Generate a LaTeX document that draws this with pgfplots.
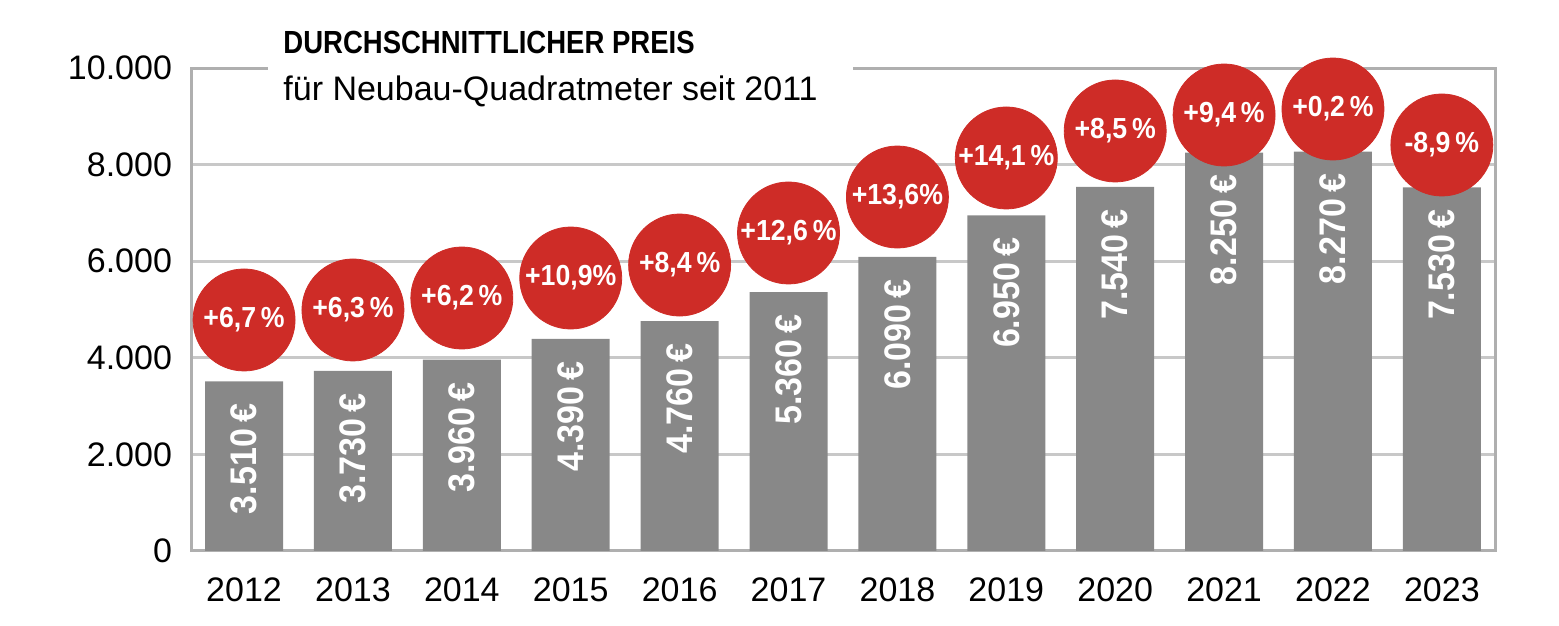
\documentclass[border=0pt]{standalone}
\usepackage{fontspec}
\usepackage{pgfplots}
\pgfplotsset{compat=1.18}
\setmainfont{Liberation Sans}
\newfontfamily\condfont[FakeStretch=0.92]{Liberation Sans}
\newfontfamily\titlefont[FakeStretch=0.86]{Liberation Sans}
\definecolor{pred}{RGB}{206,44,39}
\definecolor{pbar}{RGB}{136,136,136}
\definecolor{pgrid}{RGB}{200,200,200}
\definecolor{paxis}{RGB}{175,175,175}

\begin{document}
\begin{tikzpicture}
\begin{axis}[
  scale only axis,
  width=652.5pt, height=241.5pt,
  xmin=-0.487, xmax=11.497,
  ymin=0, ymax=10000,
  xtick={0,...,11},
  xticklabels={2012,2013,2014,2015,2016,2017,2018,2019,2020,2021,2022,2023},
  ytick={0,2000,...,10000},
  scaled y ticks=false,
  ymajorgrids,
  major grid style={pgrid, line width=1.5pt},
  axis line style={paxis, line width=1.5pt},
  major tick length=0pt,
  /pgf/number format/1000 sep={.},
  /pgf/number format/assume math mode=true,
  tick label style={font=\fontsize{17}{19}\selectfont},
  xticklabel style={yshift=-10pt},
  yticklabel style={xshift=-6pt},
  clip=false,
]
% bars
\addplot[ybar, bar width=39pt, fill=pbar, draw=none,
  point meta=y,
  nodes near coords={\pgfmathprintnumber[1000 sep={.},assume math mode=true]{\pgfplotspointmeta}\,€},
  nodes near coords style={yshift=-11pt, rotate=90, anchor=east, text=white,
    inner sep=0pt, font=\condfont\bfseries\fontsize{18.5}{20}\selectfont}]
coordinates {
  (0,3510) (1,3730) (2,3960) (3,4390) (4,4760) (5,5360)
  (6,6090) (7,6950) (8,7540) (9,8250) (10,8270) (11,7530)
};
% change circles
\addplot[pred, only marks, mark=*, mark size=25.5pt,
  mark options={fill=pred, draw=pred},
  point meta=explicit symbolic,
  nodes near coords,
  nodes near coords style={anchor=center, text=white, inner sep=0pt,
    font=\condfont\bfseries\fontsize{14.5}{16}\selectfont}]
coordinates {
  (0,4783) [+6,7\,\%]
  (1,4990) [+6,3\,\%]
  (2,5238) [+6,2\,\%]
  (3,5652) [+10,9\%]
  (4,5921) [+8,4\,\%]
  (5,6584) [+12,6\,\%]
  (6,7329) [+13,6\%]
  (7,8137) [+14,1\,\%]
  (8,8696) [+8,5\,\%]
  (9,9027) [+9,4\,\%]
  (10,9151) [+0,2\,\%]
  (11,8406) [-8,9\,\%]
};
% title block
\fill[white] (rel axis cs:0.059,0.90) rectangle (rel axis cs:0.507,1.08);
\node[anchor=base west, inner sep=0pt, font=\titlefont\bfseries\fontsize{16}{18}\selectfont]
  at (rel axis cs:0.0705,1.029) {DURCHSCHNITTLICHER PREIS};
\node[anchor=base west, inner sep=0pt, font=\fontsize{17}{19}\selectfont]
  at (rel axis cs:0.0705,0.9337) {für Neubau-Quadratmeter seit 2011};
% page frame
\path (rel axis cs:-0.1464,-0.1553) rectangle (rel axis cs:1.0483,1.1408);
\end{axis}
\end{tikzpicture}
\end{document}
